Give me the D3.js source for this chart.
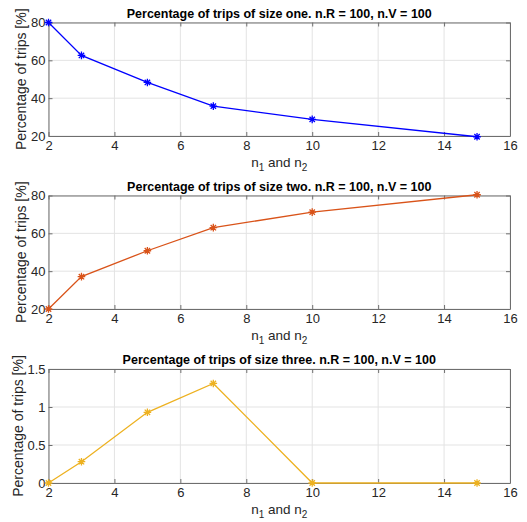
<!DOCTYPE html>
<html>
<head>
<meta charset="utf-8">
<script src="https://cdn.jsdelivr.net/npm/d3@7"></script>
<style>
  body { margin: 0; background: #fff; }
  text { font-family: "Liberation Sans", Arial, sans-serif; }
</style>
</head>
<body>
<div id="chart"></div>
<script>
// data
const nValues = [2, 3, 5, 7, 10, 15];
const sizeOne = [80, 62.6, 48.3, 35.8, 28.8, 19.6];
const sizeTwo = [20, 37.1, 50.8, 63.0, 71.2, 80.4];
const sizeThree = [0, 0.28, 0.93, 1.31, 0, 0];

const xTicks = [2, 4, 6, 8, 10, 12, 14, 16];
const yTicksPct = [20, 40, 60, 80];
const yTicksThree = [0, 0.5, 1, 1.5];

const titles = [
    "Percentage of trips of size one. n.R = 100, n.V = 100",
    "Percentage of trips of size two. n.R = 100, n.V = 100",
    "Percentage of trips of size three. n.R = 100, n.V = 100"
];

const panels = [
    { values: sizeOne, color: "#0000FF", domain: [20, 80], ticks: yTicksPct, top: 22.5, bottom: 136 },
    { values: sizeTwo, color: "#D95319", domain: [20, 80], ticks: yTicksPct, top: 195.5, bottom: 309 },
    { values: sizeThree, color: "#EDB120", domain: [0, 1.5], ticks: yTicksThree, top: 369, bottom: 483 }
];

const W = 527, H = 522;
const left = 48.5, right = 510;

let svg = d3.select("#chart")
    .append("svg")
    .attr("width", W)
    .attr("height", H);

let x = d3.scaleLinear().domain([2, 16]).range([left, right]);

function asterisk(r) {
    let d = r * Math.SQRT1_2;
    return `M${-r},0L${r},0M0,${-r}L0,${r}M${-d},${-d}L${d},${d}M${-d},${d}L${d},${-d}`;
}

panels.forEach(function (p, i) {
    let y = d3.scaleLinear().domain(p.domain).range([p.bottom, p.top]);
    let g = svg.append("g");

    // grid
    g.selectAll(".gx").data(xTicks).enter().append("line")
        .attr("x1", d => x(d)).attr("x2", d => x(d))
        .attr("y1", p.top).attr("y2", p.bottom)
        .attr("stroke", "#E3E3E3").attr("stroke-width", 1);
    g.selectAll(".gy").data(p.ticks).enter().append("line")
        .attr("x1", left).attr("x2", right)
        .attr("y1", d => y(d)).attr("y2", d => y(d))
        .attr("stroke", "#E3E3E3").attr("stroke-width", 1);

    // axes with inward ticks
    let xAxis = d3.axisBottom(x).tickValues(xTicks).tickSizeInner(-4).tickSizeOuter(0).tickPadding(5);
    let xTop = d3.axisTop(x).tickValues(xTicks).tickSizeInner(-4).tickSizeOuter(0).tickFormat("");
    let yAxis = d3.axisLeft(y).tickValues(p.ticks).tickSizeInner(-4).tickSizeOuter(0).tickPadding(3)
        .tickFormat(d => String(d));
    let yRight = d3.axisRight(y).tickValues(p.ticks).tickSizeInner(-4).tickSizeOuter(0).tickFormat("");

    [
        [xAxis, `translate(0,${p.bottom})`],
        [xTop, `translate(0,${p.top})`],
        [yAxis, `translate(${left},0)`],
        [yRight, `translate(${right},0)`]
    ].forEach(function (a) {
        let ax = g.append("g").attr("transform", a[1]).call(a[0]);
        ax.select(".domain").attr("stroke", "#6E6E6E");
        ax.selectAll(".tick line").attr("stroke", "#6E6E6E");
        ax.selectAll(".tick text")
            .attr("fill", "#262626")
            .style("font-size", "13px")
            .style("font-family", "Liberation Sans, Arial, sans-serif");
    });

    // line
    let line = d3.line().x((d, k) => x(nValues[k])).y(d => y(d));
    g.append("path")
        .datum(p.values)
        .attr("d", line)
        .attr("fill", "none")
        .attr("stroke", p.color)
        .attr("stroke-width", 1.3);

    g.selectAll(".mk").data(p.values).enter().append("path")
        .attr("transform", (d, k) => `translate(${x(nValues[k])},${y(d)})`)
        .attr("d", asterisk(3.8))
        .attr("stroke", p.color)
        .attr("stroke-width", 1.3)
        .attr("fill", "none");

    // title
    g.append("text")
        .attr("x", (left + right) / 2)
        .attr("y", p.top - 5)
        .attr("text-anchor", "middle")
        .attr("font-weight", "bold")
        .style("font-size", "12.5px")
        .attr("fill", "#000")
        .text(titles[i]);

    // x label with subscripts
    let xl = g.append("text")
        .attr("x", (left + right) / 2)
        .attr("y", p.bottom + 31)
        .attr("text-anchor", "middle")
        .style("font-size", "13.5px")
        .attr("fill", "#262626");
    xl.append("tspan").text("n");
    xl.append("tspan").attr("dy", 4).style("font-size", "10px").text("1");
    xl.append("tspan").attr("dy", -4).text(" and n");
    xl.append("tspan").attr("dy", 4).style("font-size", "10px").text("2");

    // y label
    g.append("text")
        .attr("transform", `translate(${i == 2 ? 23 : 26},${(p.top + p.bottom) / 2}) rotate(-90)`)
        .attr("text-anchor", "middle")
        .style("font-size", "14px")
        .attr("fill", "#262626")
        .text("Percentage of trips [%]");
});
</script>
</body>
</html>
